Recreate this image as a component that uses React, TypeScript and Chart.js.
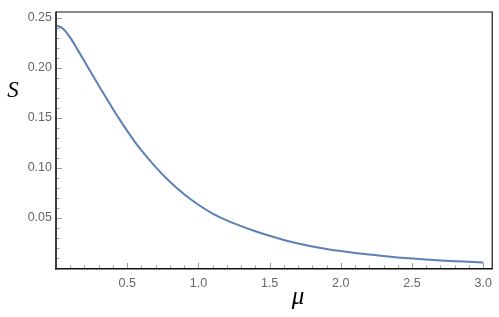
import React, { useEffect, useRef } from "react";
import { Chart, registerables } from "chart.js";

Chart.register(...registerables);

// Data
const muValues = [
  0, 0.05, 0.1, 0.15, 0.2, 0.25, 0.3, 0.35, 0.4, 0.45, 0.5, 0.55, 0.6, 0.7, 0.8, 0.9, 1.0, 1.1,
  1.2, 1.3, 1.4, 1.5, 1.6, 1.7, 1.8, 1.9, 2.0, 2.1, 2.2, 2.3, 2.4, 2.5, 2.6, 2.7, 2.8, 2.9, 3.0,
];
const sValues = [
  0.2424, 0.239, 0.23, 0.2183, 0.2063, 0.1942, 0.1822, 0.1703, 0.1587, 0.1475, 0.1367, 0.1265,
  0.1172, 0.1005, 0.0858, 0.0733, 0.0628, 0.054, 0.0471, 0.0414, 0.0363, 0.0317, 0.0276, 0.0241,
  0.0211, 0.0186, 0.0165, 0.0146, 0.0129, 0.0114, 0.0101, 0.0089, 0.0079, 0.007, 0.0063, 0.0057,
  0.0051,
];
const xTickValues = [0.5, 1.0, 1.5, 2.0, 2.5, 3.0];
const yTickValues = [0.05, 0.1, 0.15, 0.2, 0.25];
const xMinorTickValues = [
  0.1, 0.2, 0.3, 0.4, 0.6, 0.7, 0.8, 0.9, 1.1, 1.2, 1.3, 1.4, 1.6, 1.7, 1.8, 1.9, 2.1, 2.2, 2.3,
  2.4, 2.6, 2.7, 2.8, 2.9,
];
const yMinorTickValues = [
  0.01, 0.02, 0.03, 0.04, 0.06, 0.07, 0.08, 0.09, 0.11, 0.12, 0.13, 0.14, 0.16, 0.17, 0.18, 0.19,
  0.21, 0.22, 0.23, 0.24,
];
const xAxisLabel = "μ";
const yAxisLabel = "S";

const X_MIN = 0;
const X_MAX = 3.06;
const Y_MIN = -0.0015;
const Y_MAX = 0.2562;

const framePlugin = {
  id: "mmaFrame",
  beforeDatasetsDraw(chart: any) {
    const { ctx, chartArea } = chart;
    const xs = chart.scales.x;
    const ys = chart.scales.y;
    ctx.save();
    ctx.strokeStyle = "#9a9a9a";
    ctx.lineWidth = 1;
    const drawY = (v: number, len: number) => {
      const y = Math.round(ys.getPixelForValue(v)) + 0.5;
      ctx.beginPath();
      ctx.moveTo(chartArea.left, y);
      ctx.lineTo(chartArea.left + len, y);
      ctx.stroke();
    };
    yTickValues.forEach((v) => drawY(v, 6));
    yMinorTickValues.forEach((v) => drawY(v, 3.5));
    const drawX = (v: number, len: number) => {
      const x = Math.round(xs.getPixelForValue(v)) + 0.5;
      ctx.beginPath();
      ctx.moveTo(x, chartArea.bottom);
      ctx.lineTo(x, chartArea.bottom - len);
      ctx.stroke();
    };
    xTickValues.forEach((v) => drawX(v, 6));
    xMinorTickValues.forEach((v) => drawX(v, 3.5));
    ctx.restore();
  },
  afterDraw(chart: any) {
    const { ctx, chartArea } = chart;
    const { left, right, top, bottom } = chartArea;
    ctx.save();
    ctx.strokeStyle = "#1a1a1a";
    ctx.lineWidth = 1.2;
    ctx.beginPath();
    ctx.moveTo(left, top + 0.5);
    ctx.lineTo(right + 0.5, top + 0.5);
    ctx.lineTo(right + 0.5, bottom);
    ctx.stroke();
    ctx.strokeStyle = "#3c3c3c";
    ctx.lineWidth = 2;
    ctx.beginPath();
    ctx.moveTo(left, top);
    ctx.lineTo(left, bottom + 0.5);
    ctx.stroke();
    ctx.strokeStyle = "#111";
    ctx.lineWidth = 1.6;
    ctx.beginPath();
    ctx.moveTo(left - 1, bottom - 0.2);
    ctx.lineTo(right + 1, bottom - 0.2);
    ctx.stroke();
    ctx.fillStyle = "#000";
    ctx.textAlign = "center";
    ctx.textBaseline = "alphabetic";
    ctx.font = 'italic 23px "Liberation Serif"';
    ctx.fillText(yAxisLabel, 13, 97);
    ctx.font = 'italic 25px "Liberation Serif"';
    ctx.fillText(xAxisLabel, 298, 304);
    ctx.restore();
  },
};

export default function App() {
  const canvasRef = useRef<HTMLCanvasElement | null>(null);

  useEffect(() => {
    if (!canvasRef.current) return;
    const chart = new Chart(canvasRef.current, {
      type: "line",
      data: {
        datasets: [
          {
            data: muValues.map((m, i) => ({ x: m, y: sValues[i] })),
            borderColor: "#5b7fb6",
            borderWidth: 2,
            pointRadius: 0,
            fill: false,
            cubicInterpolationMode: "monotone",
          },
        ],
      },
      options: {
        animation: false,
        responsive: false,
        events: [],
        layout: { padding: { top: 7, right: 7, left: 0, bottom: 0 } },
        plugins: {
          legend: { display: false },
          tooltip: { enabled: false },
          title: { display: false },
        },
        scales: {
          x: {
            type: "linear",
            min: X_MIN,
            max: X_MAX,
            grid: { display: false, drawTicks: false },
            border: { display: false },
            afterBuildTicks: (axis: any) => {
              axis.ticks = xTickValues.map((v) => ({ value: v }));
            },
            afterFit: (axis: any) => {
              axis.height = 48;
            },
            ticks: {
              autoSkip: false,
              maxRotation: 0,
              padding: 7,
              color: "#666666",
              font: { family: "Liberation Sans", size: 12.5 },
              callback: (v: any) => Number(v).toFixed(1),
            },
          },
          y: {
            type: "linear",
            min: Y_MIN,
            max: Y_MAX,
            grid: { display: false, drawTicks: false },
            border: { display: false },
            afterBuildTicks: (axis: any) => {
              axis.ticks = yTickValues.map((v) => ({ value: v }));
            },
            afterFit: (axis: any) => {
              axis.width = 56;
            },
            ticks: {
              autoSkip: false,
              padding: 4,
              color: "#666666",
              font: { family: "Liberation Sans", size: 12.5 },
              callback: (v: any) => Number(v).toFixed(2),
            },
          },
        },
      },
      plugins: [framePlugin],
    });
    return () => chart.destroy();
  }, []);

  return (
    <div style={{ position: "fixed", left: 0, top: 0, width: 499, height: 317, background: "#fff" }}>
      <canvas ref={canvasRef} width={499} height={317} style={{ display: "block" }} />
    </div>
  );
}
